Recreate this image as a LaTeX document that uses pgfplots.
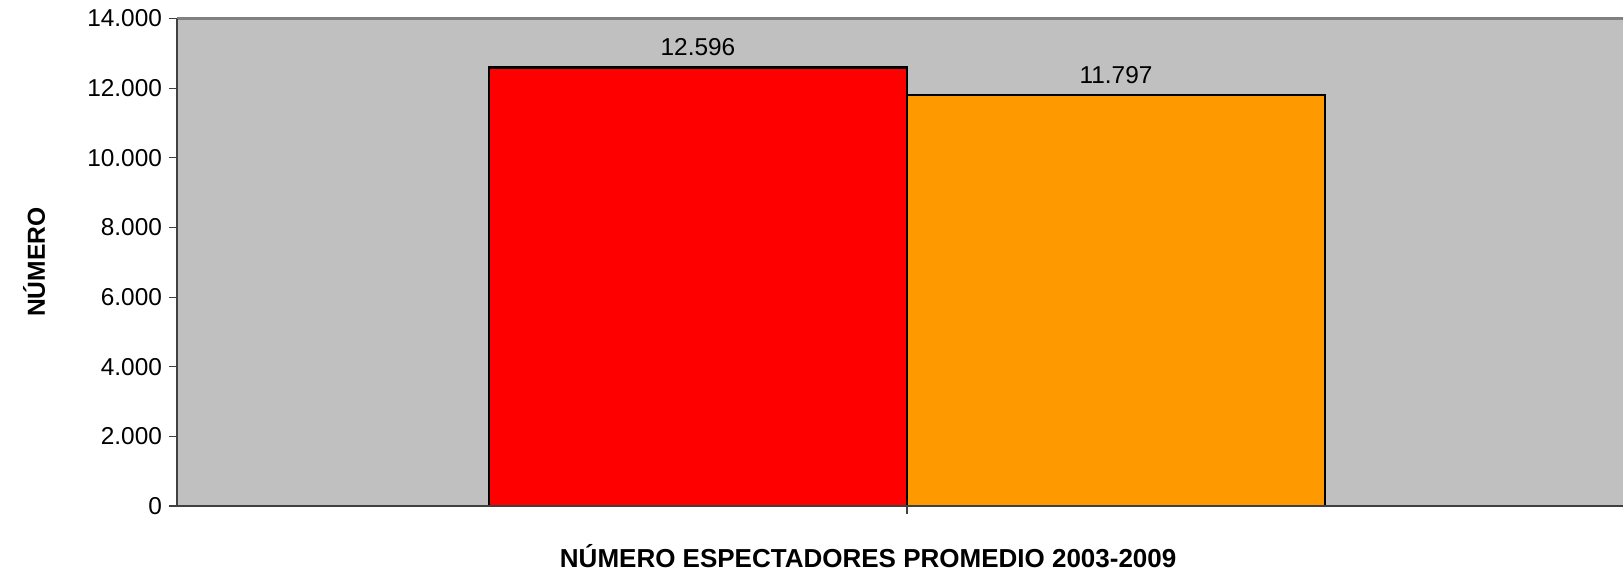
\documentclass[border=0pt]{standalone}
\usepackage{fontspec}
\setmainfont{Liberation Sans}
\usepackage{pgfplots}
\pgfplotsset{compat=1.18}
\definecolor{bg}{HTML}{C0C0C0}
\definecolor{barred}{HTML}{FF0000}
\definecolor{barorange}{HTML}{FF9900}
\definecolor{axdark}{HTML}{404040}
\definecolor{axgray}{HTML}{808080}
\begin{document}
\begin{tikzpicture}
\begin{axis}[
  scale only axis, width=723pt, height=243.7pt,
  xmin=0.5, xmax=1.5, ymin=0, ymax=14000,
  ytick={0,2000,...,14000},
  xtick={1.0048}, xticklabels={},
  axis background/.style={fill=bg},
  axis line style={draw=none},
  clip=false,
  tick align=outside, tick pos=left,
  major tick length=4pt,
  tick style={color=axdark, line width=0.6pt},
  scaled y ticks=false,
  /pgf/number format/.cd, 1000 sep={.}, assume math mode=true, /pgfplots/.cd,
  tick label style={font=\fontsize{12.2}{14}\selectfont},
  ylabel={\textbf{NÚMERO}},
  ylabel style={at={(axis description cs:-0.0989,0.5)}, anchor=center, font=\fontsize{12.3}{14}\selectfont},
  xlabel={\textbf{NÚMERO ESPECTADORES PROMEDIO 2003-2009}},
  xlabel style={at={(axis description cs:0.478,0)}, anchor=center, yshift=-25pt, font=\fontsize{13}{15}\selectfont},
  nodes near coords,
  every node near coord/.append style={anchor=center, yshift=10.3pt, font=\fontsize{12.2}{14}\selectfont, black},
]
\addplot[ybar, bar width=0.289, bar shift=0pt, fill=barred, draw=black, line width=1.1pt] coordinates {(0.8603,12596)};
\addplot[ybar, bar width=0.289, bar shift=0pt, fill=barorange, draw=black, line width=1.1pt] coordinates {(1.1494,11797)};
\draw[axgray, line width=1.3pt] (rel axis cs:0,1) -- (rel axis cs:1,1);
\draw[axdark, line width=0.9pt] (rel axis cs:0,0) -- (rel axis cs:0,1);
\draw[axdark, line width=0.9pt] (rel axis cs:0,0) -- (rel axis cs:1,0);
\end{axis}
\pgfresetboundingbox
\path[use as bounding box] (-88.5pt,-32.5pt) rectangle (723pt,253pt);
\end{tikzpicture}
\end{document}
